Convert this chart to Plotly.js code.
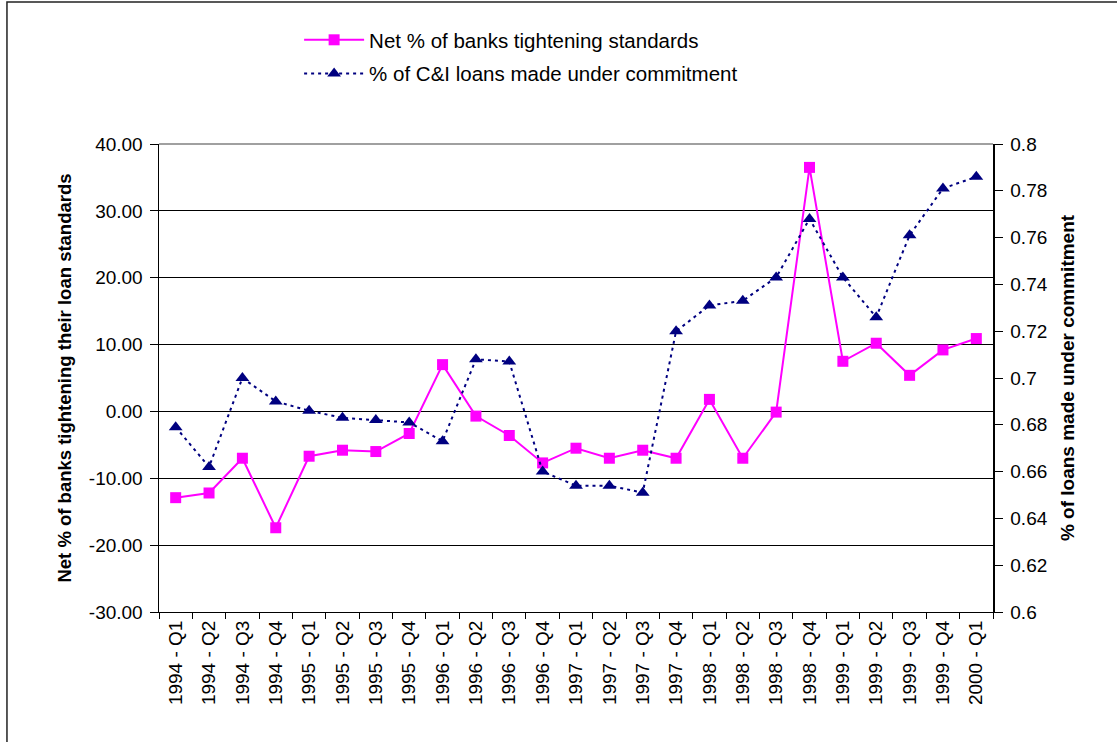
<!DOCTYPE html>
<html>
<head>
<meta charset="utf-8">
<script src="https://cdn.plot.ly/plotly-3.0.1.min.js"></script>
<style>html,body{margin:0;padding:0;background:#fff;}#chart{width:1117px;height:742px;}</style>
</head>
<body>
<div id="chart"></div>
<script>
const categories = ["1994 - Q1","1994 - Q2","1994 - Q3","1994 - Q4",
  "1995 - Q1","1995 - Q2","1995 - Q3","1995 - Q4",
  "1996 - Q1","1996 - Q2","1996 - Q3","1996 - Q4",
  "1997 - Q1","1997 - Q2","1997 - Q3","1997 - Q4",
  "1998 - Q1","1998 - Q2","1998 - Q3","1998 - Q4",
  "1999 - Q1","1999 - Q2","1999 - Q3","1999 - Q4",
  "2000 - Q1"];
const netTightening = [-12.9, -12.2, -7.0, -17.4, -6.7, -5.8, -6.0, -3.3,
  7.0, -0.7, -3.6, -7.7, -5.5, -7.0, -5.8, -7.0,
  1.8, -7.0, -0.1, 36.5, 7.5, 10.2, 5.4, 9.2, 10.9];
const commitmentShare = [0.679, 0.662, 0.700, 0.690, 0.686, 0.683, 0.682, 0.681,
  0.673, 0.708, 0.707, 0.660, 0.654, 0.654, 0.651, 0.720,
  0.731, 0.733, 0.743, 0.768, 0.743, 0.726, 0.761, 0.781, 0.786];
const leftTicks = [-30, -20, -10, 0, 10, 20, 30, 40];
const leftTickText = leftTicks.map(v => v.toFixed(2));
const seriesNames = ["Net % of banks tightening standards", "% of C&I loans made under commitment"];
const leftTitle = "Net % of banks tightening their loan standards";
const rightTitle = "% of loans made under commitment";

const FONT = "Liberation Sans, Arial, sans-serif";

const traces = [
  {
    x: categories, y: netTightening, name: seriesNames[0], type: "scatter", mode: "lines+markers",
    line: {color: "#FF00FF", width: 2},
    marker: {symbol: "square", size: 11, color: "#FF00FF"},
    legendgroup: "a", yaxis: "y"
  },
  {
    x: categories, y: commitmentShare, name: seriesNames[1], type: "scatter", mode: "lines+markers",
    line: {color: "#000080", width: 2, dash: "3px,4px"},
    marker: {symbol: "triangle-up", size: 12, color: "#000080"},
    legendgroup: "b", yaxis: "y2"
  }
];

const layout = {
  width: 1117, height: 742,
  margin: {l: 159, r: 124, t: 144, b: 130, pad: 0},
  paper_bgcolor: "#ffffff", plot_bgcolor: "#ffffff",
  font: {family: FONT, size: 18, color: "#000"},
  showlegend: true,
  legend: {
    x: 0.168, y: 1.265, xanchor: "left", yanchor: "top",
    font: {family: FONT, size: 20.5, color: "#000"},
    itemwidth: 60,
    tracegroupgap: 4, bgcolor: "rgba(0,0,0,0)"
  },
  xaxis: {
    type: "category", range: [-0.5, categories.length - 0.5],
    tickangle: -90, ticks: "outside", tickson: "boundaries",
    ticklen: 6, tickcolor: "#000", showline: true, linecolor: "#000", linewidth: 1,
    showgrid: false, tickfont: {family: FONT, size: 19}, fixedrange: true
  },
  yaxis: {
    range: [-30, 40], tickvals: leftTicks, ticktext: leftTickText,
    ticks: "outside", ticklen: 8, tickcolor: "#000", ticklabelstandoff: 3,
    showline: true, linecolor: "#000", linewidth: 1.5,
    showgrid: true, gridcolor: "#000", gridwidth: 1, zeroline: false,
    tickfont: {family: FONT, size: 19},
    title: {text: leftTitle, font: {family: FONT, size: 18.5, weight: "bold", color: "#000"}, standoff: 12}
  },
  yaxis2: {
    overlaying: "y", side: "right", range: [0.6, 0.8], dtick: 0.02,
    ticks: "outside", ticklen: 8, tickcolor: "#000", ticklabelstandoff: 4,
    showline: true, linecolor: "#000", linewidth: 1.5,
    showgrid: false, zeroline: false,
    tickfont: {family: FONT, size: 19},
    title: {text: rightTitle, font: {family: FONT, size: 19, weight: "bold", color: "#000"}, standoff: 14}
  },
  shapes: [
    {type: "rect", xref: "paper", yref: "paper", x0: -0.1823, x1: 1.16, y0: -0.3, y1: 1.3034,
     line: {color: "#222", width: 1.5}, fillcolor: "rgba(0,0,0,0)", layer: "below"},
    {type: "line", xref: "paper", yref: "paper", x0: 0, x1: 1, y0: 1, y1: 1,
     line: {color: "#808080", width: 1.5}}
  ]
};

Plotly.newPlot("chart", traces, layout, {staticPlot: true, displayModeBar: false});
</script>
</body>
</html>
